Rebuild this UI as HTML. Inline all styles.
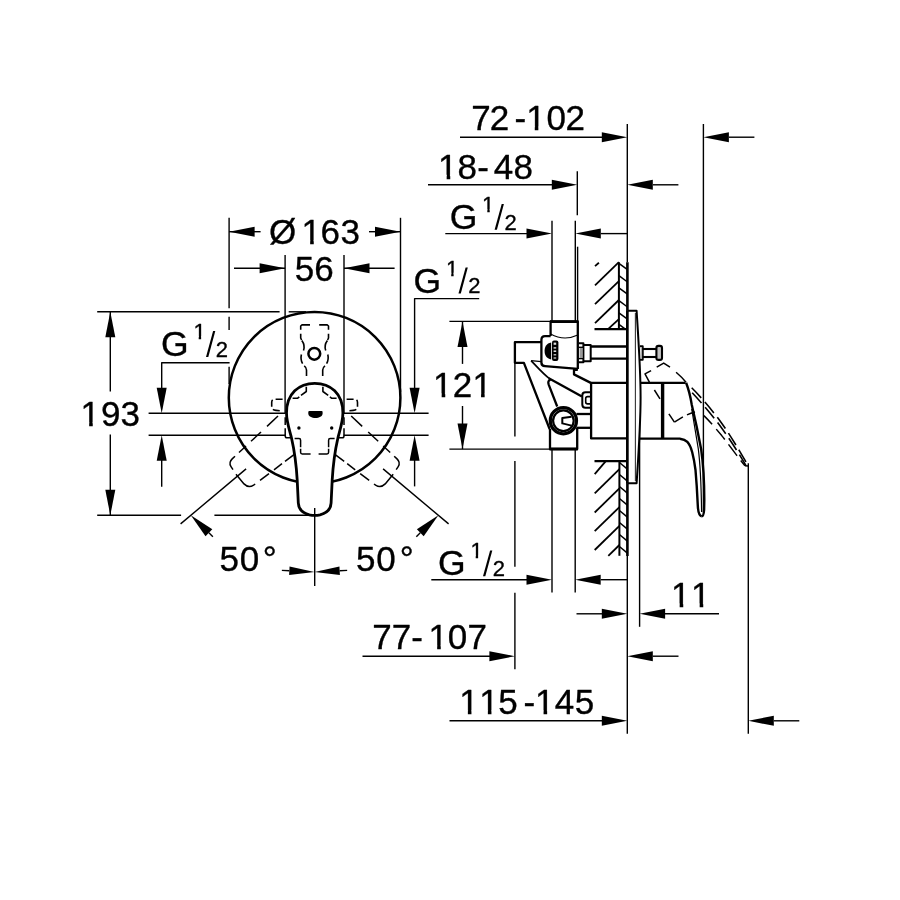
<!DOCTYPE html>
<html><head><meta charset="utf-8"><title>Dimension drawing</title>
<style>html,body{margin:0;padding:0;background:#fff}svg{display:block}text{font-family:"Liberation Sans",sans-serif;fill:#000;stroke:#000;stroke-width:0.35px;font-kerning:none;letter-spacing:0}</style>
</head><body>
<svg style="will-change:transform" width="900" height="900" viewBox="0 0 900 900" fill="none" stroke="#000" stroke-linecap="butt" stroke-linejoin="round">
<rect x="0" y="0" width="900" height="900" fill="#fff" stroke="none"/>
<circle cx="314.6" cy="397.7" r="85.8" stroke-width="2.5"/>
<line x1="229.10" y1="217.80" x2="229.10" y2="308.20" stroke-width="1.4" />
<line x1="229.10" y1="316.70" x2="229.10" y2="330.00" stroke-width="1.4" />
<line x1="229.10" y1="366.70" x2="229.10" y2="384.00" stroke-width="1.4" />
<line x1="400.50" y1="217.80" x2="400.50" y2="392.00" stroke-width="1.4" />
<line x1="229.10" y1="231.70" x2="260.60" y2="231.70" stroke-width="1.4" />
<polygon points="229.10,231.70 254.60,226.70 254.60,236.70" fill="#000" stroke="none"/>
<line x1="369.00" y1="231.70" x2="400.50" y2="231.70" stroke-width="1.4" />
<polygon points="400.50,231.70 375.00,236.70 375.00,226.70" fill="#000" stroke="none"/>
<text x="268.97 301.61 320.40 340.42" y="243.95" font-size="35.0">Ø163</text>
<rect x="302.77" y="240.14" width="7.39" height="5.41" fill="#fff" stroke="none"/>
<rect x="313.75" y="240.14" width="7.36" height="5.41" fill="#fff" stroke="none"/>
<line x1="285.10" y1="255.00" x2="285.10" y2="413.20" stroke-width="1.4" />
<line x1="344.00" y1="255.00" x2="344.00" y2="413.00" stroke-width="1.4" />
<line x1="234.00" y1="268.30" x2="285.10" y2="268.30" stroke-width="1.4" />
<polygon points="285.10,268.30 259.60,273.30 259.60,263.30" fill="#000" stroke="none"/>
<line x1="344.00" y1="268.30" x2="394.60" y2="268.30" stroke-width="1.4" />
<polygon points="344.00,268.30 369.50,263.30 369.50,273.30" fill="#000" stroke="none"/>
<text x="294.65 314.30" y="280.60" font-size="35.0">56</text>
<line x1="97.20" y1="311.80" x2="279.60" y2="311.80" stroke-width="1.4" />
<line x1="288.70" y1="311.80" x2="306.00" y2="311.80" stroke-width="1.4" />
<line x1="97.20" y1="515.30" x2="181.10" y2="515.30" stroke-width="1.4" />
<line x1="214.40" y1="515.30" x2="311.00" y2="515.30" stroke-width="1.4" />
<line x1="110.30" y1="311.80" x2="110.30" y2="391.50" stroke-width="1.4" />
<line x1="110.30" y1="434.40" x2="110.30" y2="515.30" stroke-width="1.4" />
<polygon points="110.30,311.80 115.30,337.30 105.30,337.30" fill="#000" stroke="none"/>
<polygon points="110.30,515.30 105.30,489.80 115.30,489.80" fill="#000" stroke="none"/>
<text x="80.61 101.08 120.47" y="426.00" font-size="35.0">193</text>
<rect x="81.77" y="422.19" width="7.39" height="5.41" fill="#fff" stroke="none"/>
<rect x="92.75" y="422.19" width="7.36" height="5.41" fill="#fff" stroke="none"/>
<text x="161.12" y="356.10" font-size="35.5" >G</text>
<text x="193.40" y="339.10" font-size="22" >1</text>
<rect x="193.58" y="336.26" width="5.11" height="4.44" fill="#fff" stroke="none"/>
<rect x="201.13" y="336.26" width="5.18" height="4.44" fill="#fff" stroke="none"/>
<polygon points="206.00,357.00 208.30,357.00 215.30,331.10 213.10,331.10" fill="#000" stroke="none"/>
<text x="215.80" y="357.00" font-size="22" >2</text>
<path d="M229.6,362.8 H161.7 V390" stroke-width="1.4" />
<polygon points="161.70,413.20 156.70,387.70 166.70,387.70" fill="#000" stroke="none"/>
<line x1="148.60" y1="413.20" x2="285.60" y2="413.20" stroke-width="1.4" />
<line x1="148.60" y1="435.30" x2="285.60" y2="435.30" stroke-width="1.4" />
<polygon points="161.70,435.30 166.70,460.80 156.70,460.80" fill="#000" stroke="none"/>
<line x1="161.70" y1="460.00" x2="161.70" y2="486.70" stroke-width="1.4" />
<text x="413.62" y="292.50" font-size="35.5" >G</text>
<text x="445.90" y="275.50" font-size="22" >1</text>
<rect x="446.08" y="272.66" width="5.11" height="4.44" fill="#fff" stroke="none"/>
<rect x="453.63" y="272.66" width="5.18" height="4.44" fill="#fff" stroke="none"/>
<polygon points="458.50,293.40 460.80,293.40 467.80,267.50 465.60,267.50" fill="#000" stroke="none"/>
<text x="468.30" y="293.40" font-size="22" >2</text>
<path d="M479.2,298.6 H414.6 V390" stroke-width="1.4" />
<polygon points="414.60,413.20 409.60,387.70 419.60,387.70" fill="#000" stroke="none"/>
<line x1="343.60" y1="413.20" x2="428.60" y2="413.20" stroke-width="1.4" />
<line x1="343.60" y1="435.30" x2="428.60" y2="435.30" stroke-width="1.4" />
<polygon points="414.60,435.30 419.60,460.80 409.60,460.80" fill="#000" stroke="none"/>
<line x1="414.60" y1="460.00" x2="414.60" y2="486.40" stroke-width="1.4" />
<path d="M286.5,413 C286.5,393.5 299,383.3 314.7,383.3 C330.4,383.3 342.9,393.5 342.9,413 C342.9,422 339.3,432 337.9,438 C335.6,448 333.3,461 332.2,480 L331.1,503 C330.8,510 327,513 320,514.8 Q314.7,516 309.4,514.8 C302.4,513 298.6,510 298.3,503 L297.2,480 C296.1,461 293.8,448 291.5,438 C290.1,432 286.5,422 286.5,413 Z" stroke-width="2.8" fill="#fff"/>
<line x1="314.70" y1="508.00" x2="314.70" y2="586.00" stroke-width="1.4" />
<path d="M309.3,411 H321.6 Q322.6,411 322.6,412 V413.2 C322.6,416.6 319,417.9 315.4,417.9 C311.8,417.9 308.3,416.6 308.3,413.2 V412 Q308.3,411 309.3,411 Z" fill="#000" stroke="none"/>
<circle cx="298.9" cy="428" r="1.7" fill="#000" stroke="none"/>
<circle cx="331.7" cy="428" r="1.7" fill="#000" stroke="none"/>
<circle cx="314.3" cy="353.8" r="5.9" stroke-width="2.5"/>
<path d="M310.0,324.9 L302.0,324.9 L300.7,326.0 L300.7,329.8" stroke-width="1.6" />
<path d="M319.2,324.9 L327.2,324.9 L328.5,326.0 L328.5,329.8" stroke-width="1.6" />
<path d="M300.7,333.8 L300.7,338.0 L301.6,340.0" stroke-width="1.6" />
<path d="M328.5,333.8 L328.5,338.0 L327.6,340.0" stroke-width="1.6" />
<path d="M301.8,340.5 C304.5,344 304.5,347.5 303.5,350.5" stroke-width="1.6" />
<path d="M327.4,340.5 C324.7,344 324.7,347.5 325.7,350.5" stroke-width="1.6" />
<path d="M301.4,354.5 C300.6,358 301,361 302.6,363.6" stroke-width="1.6" />
<path d="M327.8,354.5 C328.6,358 328.2,361 326.6,363.6" stroke-width="1.6" />
<path d="M304.2,365.8 Q306.5,367.5 306.5,370 V376" stroke-width="1.6" />
<path d="M325,365.8 Q322.7,367.5 322.7,370 V376" stroke-width="1.6" />
<path d="M306.3,386.8 L306.3,391.5 L301.0,395.3" stroke-width="1.6" />
<path d="M322.9,386.8 L322.9,391.5 L328.2,395.3" stroke-width="1.6" />
<path d="M299.3,396.8 L297.4,398.3 L292.6,398.3" stroke-width="1.6" />
<path d="M329.9,396.8 L331.8,398.3 L336.6,398.3" stroke-width="1.6" />
<path d="M282.6,399.3 H275 Q271.7,399.3 271.7,402.5 V407 Q271.7,410 276,410.4 L282.6,411" stroke-width="1.6" stroke-dasharray="7 3"/>
<path d="M346.6,399.3 H354.2 Q357.5,399.3 357.5,402.5 V407 Q357.5,410 353.2,410.4 L346.6,411" stroke-width="1.6" stroke-dasharray="7 3"/>
<path d="M285.2,417.2 V425" stroke-width="1.5" />
<path d="M285.2,428.3 V436 Q285.2,437.8 287.0,437.8 H291.0" stroke-width="1.5" />
<path d="M294.6,438.5 H299.0 Q300.6,438.5 300.6,440.2 V447.2" stroke-width="1.5" />
<path d="M300.6,448.8 V452.3 Q300.6,453.9 302.2,453.9 H310.6" stroke-width="1.5" />
<path d="M344.0,417.2 V425" stroke-width="1.5" />
<path d="M344.0,428.3 V436 Q344.0,437.8 342.2,437.8 H338.2" stroke-width="1.5" />
<path d="M334.6,438.5 H330.2 Q328.6,438.5 328.6,440.2 V447.2" stroke-width="1.5" />
<path d="M328.6,448.8 V452.3 Q328.6,453.9 327.0,453.9 H318.6" stroke-width="1.5" />
<path d="M278,416 L267,426.4" stroke-width="1.5" />
<path d="M351.2,416 L362.2,426.4" stroke-width="1.5" />
<path d="M261,432 L251,441.3" stroke-width="1.5" />
<path d="M368.2,432 L378.2,441.3" stroke-width="1.5" />
<path d="M246,446 L239,452.5" stroke-width="1.5" />
<path d="M383.2,446 L390.2,452.5" stroke-width="1.5" />
<path d="M235,456.2 L232.2,458.9 Q228.4,462.6 231,466.6 L233,469.6" stroke-width="1.5" />
<path d="M394.2,456.2 L397.0,458.9 Q400.8,462.6 398.2,466.6 L396.2,469.6" stroke-width="1.5" />
<path d="M236,474.2 L244,483.9 Q248.5,488.4 253.6,485.1 L255.2,484" stroke-width="1.5" />
<path d="M393.2,474.2 L385.2,483.9 Q380.7,488.4 375.6,485.1 L374.0,484" stroke-width="1.5" />
<path d="M260,480.4 L269,473.6" stroke-width="1.5" />
<path d="M369.2,480.4 L360.2,473.6" stroke-width="1.5" />
<path d="M274,469.8 L282,463.7" stroke-width="1.5" />
<path d="M355.2,469.8 L347.2,463.7" stroke-width="1.5" />
<path d="M285,461.4 L294,454.6" stroke-width="1.5" />
<path d="M344.2,461.4 L335.2,454.6" stroke-width="1.5" />
<line x1="246.10" y1="468.90" x2="180.60" y2="523.90" stroke-width="1.4" />
<line x1="383.10" y1="468.90" x2="448.60" y2="523.90" stroke-width="1.4" />
<polygon points="190.80,515.30 212.32,529.29 205.51,536.34" fill="#000" stroke="none"/>
<line x1="208.92" y1="532.81" x2="212.87" y2="536.64" stroke-width="1.4" />
<polygon points="438.40,515.30 423.69,536.34 416.88,529.29" fill="#000" stroke="none"/>
<line x1="420.28" y1="532.81" x2="416.33" y2="536.64" stroke-width="1.4" />
<polygon points="314.50,572.00 289.12,575.04 289.55,566.45" fill="#000" stroke="none"/>
<line x1="289.33" y1="570.74" x2="281.84" y2="570.37" stroke-width="1.4" />
<polygon points="314.50,572.00 339.45,566.45 339.88,575.04" fill="#000" stroke="none"/>
<line x1="339.67" y1="570.74" x2="347.16" y2="570.37" stroke-width="1.4" />
<text x="219.60 239.82 262.81" y="570.85" font-size="35.0">50°</text>
<text x="356.05 376.27 399.66" y="570.85" font-size="35.0">50°</text>
<text x="471.15 489.77 514.57 526.21 546.42 565.52" y="130.40" font-size="35.0">72-102</text>
<rect x="527.37" y="126.59" width="7.39" height="5.41" fill="#fff" stroke="none"/>
<rect x="538.35" y="126.59" width="7.36" height="5.41" fill="#fff" stroke="none"/>
<line x1="460.00" y1="137.20" x2="602.00" y2="137.20" stroke-width="1.4" />
<polygon points="627.30,137.20 601.80,142.20 601.80,132.20" fill="#000" stroke="none"/>
<line x1="627.30" y1="124.00" x2="627.30" y2="262.20" stroke-width="1.4" />
<line x1="703.40" y1="124.00" x2="703.40" y2="512.00" stroke-width="1.4" />
<polygon points="703.40,137.20 728.90,132.20 728.90,142.20" fill="#000" stroke="none"/>
<line x1="729.00" y1="137.20" x2="754.40" y2="137.20" stroke-width="1.4" />
<text x="438.11 457.62 477.27 493.73 513.62" y="178.55" font-size="35.0">18-48</text>
<rect x="439.27" y="174.74" width="7.39" height="5.41" fill="#fff" stroke="none"/>
<rect x="450.25" y="174.74" width="7.36" height="5.41" fill="#fff" stroke="none"/>
<line x1="428.00" y1="184.80" x2="552.00" y2="184.80" stroke-width="1.4" />
<polygon points="577.30,184.80 551.80,189.80 551.80,179.80" fill="#000" stroke="none"/>
<line x1="577.30" y1="171.30" x2="577.30" y2="215.30" stroke-width="1.4" />
<polygon points="627.30,184.80 652.80,179.80 652.80,189.80" fill="#000" stroke="none"/>
<line x1="653.00" y1="184.80" x2="678.40" y2="184.80" stroke-width="1.4" />
<text x="449.72" y="228.95" font-size="35.5" >G</text>
<text x="482.00" y="211.95" font-size="22" >1</text>
<rect x="482.18" y="209.11" width="5.11" height="4.44" fill="#fff" stroke="none"/>
<rect x="489.73" y="209.11" width="5.18" height="4.44" fill="#fff" stroke="none"/>
<polygon points="494.60,229.85 496.90,229.85 503.90,203.95 501.70,203.95" fill="#000" stroke="none"/>
<text x="504.40" y="229.85" font-size="22" >2</text>
<line x1="445.30" y1="233.60" x2="527.00" y2="233.60" stroke-width="1.4" />
<polygon points="552.00,233.60 526.50,238.60 526.50,228.60" fill="#000" stroke="none"/>
<line x1="552.00" y1="220.70" x2="552.00" y2="321.50" stroke-width="1.4" />
<line x1="575.30" y1="220.70" x2="575.30" y2="321.50" stroke-width="1.4" />
<line x1="577.60" y1="246.70" x2="577.60" y2="321.50" stroke-width="1.4" />
<polygon points="575.30,233.60 600.80,228.60 600.80,238.60" fill="#000" stroke="none"/>
<line x1="600.80" y1="233.60" x2="627.30" y2="233.60" stroke-width="1.4" />
<line x1="449.40" y1="321.40" x2="550.60" y2="321.40" stroke-width="1.4" />
<line x1="449.40" y1="449.10" x2="550.00" y2="449.10" stroke-width="1.4" />
<line x1="462.50" y1="321.40" x2="462.50" y2="363.90" stroke-width="1.4" />
<line x1="462.50" y1="406.00" x2="462.50" y2="449.10" stroke-width="1.4" />
<polygon points="462.50,321.40 467.50,346.90 457.50,346.90" fill="#000" stroke="none"/>
<polygon points="462.50,449.10 457.50,423.60 467.50,423.60" fill="#000" stroke="none"/>
<text x="433.11 452.87 472.51" y="397.30" font-size="35.0">121</text>
<rect x="434.27" y="393.49" width="7.39" height="5.41" fill="#fff" stroke="none"/>
<rect x="445.25" y="393.49" width="7.36" height="5.41" fill="#fff" stroke="none"/>
<rect x="473.67" y="393.49" width="7.39" height="5.41" fill="#fff" stroke="none"/>
<rect x="484.65" y="393.49" width="7.36" height="5.41" fill="#fff" stroke="none"/>
<line x1="514.90" y1="342.00" x2="514.90" y2="436.50" stroke-width="1.4" />
<line x1="514.90" y1="461.00" x2="514.90" y2="566.80" stroke-width="1.4" />
<line x1="514.90" y1="592.70" x2="514.90" y2="669.20" stroke-width="1.4" />
<text x="438.12" y="575.45" font-size="35.5" >G</text>
<text x="470.40" y="558.45" font-size="22" >1</text>
<rect x="470.58" y="555.61" width="5.11" height="4.44" fill="#fff" stroke="none"/>
<rect x="478.13" y="555.61" width="5.18" height="4.44" fill="#fff" stroke="none"/>
<polygon points="483.00,576.35 485.30,576.35 492.30,550.45 490.10,550.45" fill="#000" stroke="none"/>
<text x="492.80" y="576.35" font-size="22" >2</text>
<line x1="431.30" y1="579.70" x2="527.00" y2="579.70" stroke-width="1.4" />
<polygon points="552.00,579.70 526.50,584.70 526.50,574.70" fill="#000" stroke="none"/>
<line x1="552.00" y1="449.00" x2="552.00" y2="592.50" stroke-width="1.4" />
<line x1="575.20" y1="449.00" x2="575.20" y2="592.50" stroke-width="1.4" />
<polygon points="575.20,579.70 600.70,574.70 600.70,584.70" fill="#000" stroke="none"/>
<line x1="600.70" y1="579.70" x2="627.30" y2="579.70" stroke-width="1.4" />
<line x1="627.30" y1="556.00" x2="627.30" y2="733.70" stroke-width="1.4" />
<line x1="639.60" y1="400.00" x2="639.60" y2="626.80" stroke-width="1.4" />
<line x1="576.50" y1="613.80" x2="602.00" y2="613.80" stroke-width="1.4" />
<polygon points="627.30,613.80 601.80,618.80 601.80,608.80" fill="#000" stroke="none"/>
<polygon points="639.60,613.80 665.10,608.80 665.10,618.80" fill="#000" stroke="none"/>
<line x1="665.00" y1="613.80" x2="719.00" y2="613.80" stroke-width="1.4" />
<text x="671.11 691.11" y="607.40" font-size="35.0">11</text>
<rect x="672.27" y="603.59" width="7.39" height="5.41" fill="#fff" stroke="none"/>
<rect x="683.25" y="603.59" width="7.36" height="5.41" fill="#fff" stroke="none"/>
<rect x="692.27" y="603.59" width="7.39" height="5.41" fill="#fff" stroke="none"/>
<rect x="703.25" y="603.59" width="7.36" height="5.41" fill="#fff" stroke="none"/>
<text x="372.20 391.70 411.17 428.61 447.72 467.55" y="649.25" font-size="35.0">77-107</text>
<rect x="429.77" y="645.44" width="7.39" height="5.41" fill="#fff" stroke="none"/>
<rect x="440.75" y="645.44" width="7.36" height="5.41" fill="#fff" stroke="none"/>
<line x1="362.50" y1="656.20" x2="490.00" y2="656.20" stroke-width="1.4" />
<polygon points="514.90,656.20 489.40,661.20 489.40,651.20" fill="#000" stroke="none"/>
<polygon points="627.30,656.20 652.80,651.20 652.80,661.20" fill="#000" stroke="none"/>
<line x1="652.80" y1="656.20" x2="678.50" y2="656.20" stroke-width="1.4" />
<text x="459.31 479.31 498.30 523.42 535.01 554.63 574.80" y="714.30" font-size="35.0">115-145</text>
<rect x="460.47" y="710.49" width="7.39" height="5.41" fill="#fff" stroke="none"/>
<rect x="471.45" y="710.49" width="7.36" height="5.41" fill="#fff" stroke="none"/>
<rect x="480.47" y="710.49" width="7.39" height="5.41" fill="#fff" stroke="none"/>
<rect x="491.45" y="710.49" width="7.36" height="5.41" fill="#fff" stroke="none"/>
<rect x="536.17" y="710.49" width="7.39" height="5.41" fill="#fff" stroke="none"/>
<rect x="547.15" y="710.49" width="7.36" height="5.41" fill="#fff" stroke="none"/>
<line x1="449.50" y1="720.80" x2="602.00" y2="720.80" stroke-width="1.4" />
<polygon points="627.30,720.80 601.80,725.80 601.80,715.80" fill="#000" stroke="none"/>
<line x1="748.30" y1="463.30" x2="748.30" y2="733.70" stroke-width="1.4" />
<polygon points="748.30,720.80 773.80,715.80 773.80,725.80" fill="#000" stroke="none"/>
<line x1="773.80" y1="720.80" x2="799.30" y2="720.80" stroke-width="1.4" />
<line x1="595.00" y1="285.30" x2="618.90" y2="262.20" stroke-width="1.8" />
<line x1="595.00" y1="304.20" x2="618.90" y2="281.10" stroke-width="1.8" />
<line x1="595.00" y1="323.10" x2="618.90" y2="300.00" stroke-width="1.8" />
<line x1="595.00" y1="266.10" x2="598.90" y2="262.80" stroke-width="1.8" />
<line x1="608.30" y1="328.90" x2="618.90" y2="319.10" stroke-width="1.8" />
<line x1="618.90" y1="262.20" x2="618.90" y2="329.20" stroke-width="2.0" />
<line x1="594.50" y1="329.20" x2="627.30" y2="329.20" stroke-width="2.2" />
<line x1="618.90" y1="263.30" x2="627.50" y2="269.70" stroke-width="1.5" />
<line x1="618.90" y1="275.60" x2="627.50" y2="282.00" stroke-width="1.5" />
<line x1="618.90" y1="287.80" x2="627.50" y2="294.20" stroke-width="1.5" />
<line x1="618.90" y1="300.60" x2="627.50" y2="307.00" stroke-width="1.5" />
<line x1="618.90" y1="312.80" x2="627.50" y2="319.20" stroke-width="1.5" />
<line x1="618.90" y1="324.40" x2="625.00" y2="328.90" stroke-width="1.5" />
<line x1="627.40" y1="262.20" x2="627.40" y2="556.00" stroke-width="2.6" />
<line x1="594.50" y1="461.20" x2="627.30" y2="461.20" stroke-width="2.2" />
<line x1="619.40" y1="461.20" x2="619.40" y2="555.80" stroke-width="2.0" />
<line x1="594.70" y1="474.20" x2="605.80" y2="461.20" stroke-width="1.8" />
<line x1="594.70" y1="493.30" x2="619.40" y2="469.20" stroke-width="1.8" />
<line x1="594.70" y1="512.50" x2="619.40" y2="488.40" stroke-width="1.8" />
<line x1="594.70" y1="531.20" x2="619.40" y2="507.10" stroke-width="1.8" />
<line x1="594.70" y1="550.00" x2="619.40" y2="525.90" stroke-width="1.8" />
<line x1="608.30" y1="555.80" x2="619.40" y2="545.00" stroke-width="1.8" />
<line x1="619.40" y1="462.50" x2="627.40" y2="469.10" stroke-width="1.5" />
<line x1="619.40" y1="474.50" x2="627.40" y2="481.10" stroke-width="1.5" />
<line x1="619.40" y1="486.50" x2="627.40" y2="493.10" stroke-width="1.5" />
<line x1="619.40" y1="498.50" x2="627.40" y2="505.10" stroke-width="1.5" />
<line x1="619.40" y1="510.50" x2="627.40" y2="517.10" stroke-width="1.5" />
<line x1="619.40" y1="522.50" x2="627.40" y2="529.10" stroke-width="1.5" />
<line x1="619.40" y1="534.50" x2="627.40" y2="541.10" stroke-width="1.5" />
<line x1="619.40" y1="546.50" x2="627.40" y2="553.10" stroke-width="1.5" />
<path d="M627.4,310.8 H636.6 C638.8,345 640.6,370 640.6,397 C640.6,424 638.8,450 636.6,483.3 H627.4" stroke-width="2.0" fill="#fff"/>
<line x1="635.40" y1="313.00" x2="635.40" y2="481.00" stroke-width="1.1" stroke="#333"/>
<line x1="627.40" y1="310.80" x2="627.40" y2="483.30" stroke-width="2.6" />
<path d="M550.6,336 V321.6 H577.8 V368.9" stroke-width="2.3" />
<line x1="550.00" y1="321.60" x2="578.40" y2="321.60" stroke-width="2.8" />
<path d="M550.6,334 Q564,341.5 577.8,335" stroke-width="1.2" />
<path d="M550.6,336.2 H545 Q541.4,336.2 541.4,340 V362.5 Q541.4,366 545,366.2 L577.8,368.9" stroke-width="2.3" />
<path d="M541.4,342.2 H514.9 V362.8 H523.9 L549.6,429" stroke-width="2.3" />
<path d="M541.4,361.7 L531.1,360.6" stroke-width="1.3" />
<path d="M531.1,360.6 C537,366.8 543.5,374.2 549.8,378.9" stroke-width="1.7" />
<path d="M548.8,378.2 L581.9,396.6" stroke-width="2.3" />
<path d="M557.2,406.5 L548.7,384.6 Q547.3,380.6 550.6,379.6" stroke-width="2.3" />
<path d="M577.8,369.8 H574 V374.4 L590.8,382.9" stroke-width="2.3" />
<path d="M551.2,342.6 C546.4,343.4 544.6,347 544.6,351 C544.6,355 546.4,358.6 551.2,359.4 Z" fill="#000" stroke="none"/>
<rect x="552" y="340.5" width="6.4" height="20.4" rx="2" fill="#000" stroke="none"/>
<rect x="553.6" y="342.6" width="2.6" height="2.2" fill="#ddd" stroke="none"/>
<rect x="553.6" y="347.2" width="2.6" height="1.4" fill="#ddd" stroke="none"/>
<rect x="553.6" y="350.4" width="2.6" height="1.6" fill="#ddd" stroke="none"/>
<rect x="553.6" y="354.2" width="2.6" height="1.2" fill="#ddd" stroke="none"/>
<rect x="553.6" y="357.4" width="2.6" height="1.2" fill="#ddd" stroke="none"/>
<path d="M578.6,343.3 H583.4 V362.2 H578.6" stroke-width="2.0" />
<line x1="578.60" y1="347.30" x2="583.40" y2="347.30" stroke-width="1.4" />
<line x1="578.60" y1="358.60" x2="583.40" y2="358.60" stroke-width="1.4" />
<rect x="579.6" y="348" width="3" height="10" fill="#999" stroke="none"/>
<path d="M583.4,345 H590.7 V361.2 H583.4" stroke-width="2.0" />
<line x1="590.70" y1="346.50" x2="627.30" y2="346.50" stroke-width="2.3" />
<line x1="590.70" y1="358.70" x2="627.30" y2="358.70" stroke-width="2.3" />
<path d="M627.3,382.9 H591.1 V438.4 H627.3" stroke-width="2.3" />
<path d="M590.6,392.3 H585.5 Q582.3,392.3 582.3,395.5 V404.6 Q582.3,407.8 585.5,407.8 H590.6" stroke-width="2.0" />
<path d="M590.6,396.6 H587.6 Q585.7,396.6 585.7,398.4 V402 Q585.7,403.9 587.6,403.9 H590.6" stroke-width="1.6" />
<path d="M550,429 V449 H577.2 V427.8" stroke-width="2.3" />
<line x1="549.40" y1="449.00" x2="577.80" y2="449.00" stroke-width="2.8" />
<line x1="576.50" y1="414.00" x2="590.60" y2="414.00" stroke-width="2.3" />
<line x1="576.50" y1="427.80" x2="590.60" y2="427.80" stroke-width="2.3" />
<circle cx="563.4" cy="420.7" r="13.1" stroke-width="3.2" fill="#fff"/>
<circle cx="563.4" cy="420.7" r="10.3" stroke-width="2.2"/>
<path d="M571.6,416.8 L562.3,418 V423.4 L571.6,425.6" stroke-width="2.0" />
<path d="M640,346.2 H642.7 V359.8 H640" stroke-width="2.0" />
<rect x="640.7" y="347.2" width="1.4" height="11.6" fill="#aaa" stroke="none"/>
<line x1="642.70" y1="349.00" x2="656.30" y2="349.00" stroke-width="2.1" />
<line x1="642.70" y1="357.00" x2="656.30" y2="357.00" stroke-width="2.1" />
<rect x="656.4" y="345.9" width="5.6" height="14" rx="2" stroke-width="2.1" fill="#c4c4c4"/>
<line x1="640.00" y1="382.90" x2="685.40" y2="382.90" stroke-width="2.3" />
<line x1="640.00" y1="438.60" x2="680.00" y2="438.60" stroke-width="2.3" />
<line x1="662.60" y1="382.90" x2="662.60" y2="438.60" stroke-width="3.4" />
<path d="M686.1,382.8 C688.5,389 690.5,397 691.7,404.4 L696.7,426.7 L701.1,448.9 C703,462 704.3,482 704.3,500 L704.1,510 Q703.6,516.4 701.7,516.4" stroke-width="2.4" />
<path d="M680,438.7 C686,439.3 689.5,442 692.2,452.2 C694,459 695,466 695.5,470 L696.7,485.6 L697.8,505.6 Q698.2,515.4 701.7,516.4" stroke-width="2.4" />
<path d="M691.7,408.9 L698.3,448.9 C700,462 701.2,485 701.6,512" stroke-width="1.2" />
<path d="M651.1,370.6 L645,373.9 L649.4,382.2" stroke-width="1.5" />
<path d="M656.7,367.2 L663.7,363.1 L670,367.2" stroke-width="1.5" />
<path d="M676.1,372.2 C680,375.5 683.5,379 686,382.3" stroke-width="1.5" />
<path d="M654.4,390 L660,398.9" stroke-width="1.5" />
<path d="M668.9,413.9 L674.4,422.2" stroke-width="1.5" />
<path d="M674.4,422.2 L683.3,416.7 Q689,413.5 695,412" stroke-width="1.5" stroke-dasharray="10 4.5"/>
<path d="M691.7,387.8 C700,396 712,410 720.6,421.7 C729,433 739,450 747.8,465" stroke-width="1.6" stroke-dasharray="14 5.5"/>
<path d="M692.2,392.8 C700,401 712,415 721.1,427.2 C729,438 738,452 746,465.6" stroke-width="1.6" stroke-dasharray="14 5.5"/>
<path d="M703.9,415.6 C710,421.5 717,430 721.7,435.6 C728,443.5 737,456 745,465.8" stroke-width="1.5" stroke-dasharray="14 6" stroke-dashoffset="2"/>
<path d="M745,465.8 L748,466 " stroke-width="1.4" />
</svg>
</body></html>
